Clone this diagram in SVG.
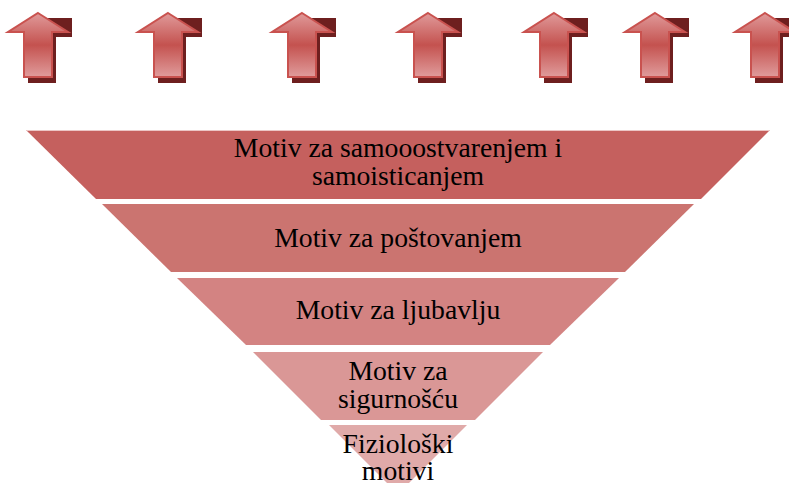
<svg xmlns="http://www.w3.org/2000/svg" width="789" height="483" viewBox="0 0 789 483">
<defs>
<linearGradient id="ag" x1="0" y1="0" x2="0" y2="1">
<stop offset="0" stop-color="#e09a9a"/>
<stop offset="0.5" stop-color="#c4524f"/>
<stop offset="1" stop-color="#e09c9c"/>
</linearGradient>
<g id="arrow">
<polygon points="4,5 34,5 34,24 18,24 18,70 -10,70 -10,24" fill="#6e1f1f"/>
<polygon points="0,0 30,19 14,19 14,64 -14,64 -14,19 -30,19" fill="url(#ag)" stroke="#c9524f" stroke-width="2" stroke-linejoin="miter"/>
</g>
</defs>
<style>
.t{font-size:27.7px;fill:#000;text-anchor:middle}
</style>
<rect width="789" height="483" fill="#fff"/>
<g id="arrows">
<use href="#arrow" x="38" y="13"/>
<use href="#arrow" x="168" y="13"/>
<use href="#arrow" x="302" y="13"/>
<use href="#arrow" x="428" y="13"/>
<use href="#arrow" x="554" y="13"/>
<use href="#arrow" x="655" y="13"/>
<use href="#arrow" x="765" y="13"/>
</g>
<g font-family="Liberation Serif">
<g id="level1">
<polygon points="26,130 770,130 701,199 96,199" fill="#c5605e"/>
<line x1="26" y1="130.5" x2="770" y2="130.5" stroke="#ecc6c5" stroke-width="1"/>
<text class="t" x="398" y="157">Motiv za samooostvarenjem i</text>
<text class="t" x="398" y="185">samoisticanjem</text>
</g>
<g id="level2">
<polygon points="102,204 694,204 625,272 171,272" fill="#cb7470"/>
<text class="t" x="398" y="247">Motiv za poštovanjem</text>
</g>
<g id="level3">
<polygon points="177,278 619,278 550,345 246,345" fill="#d38382"/>
<text class="t" x="398" y="319">Motiv za ljubavlju</text>
</g>
<g id="level4">
<polygon points="253,352 543,352 475,420 321,420" fill="#da9796"/>
<text class="t" x="398" y="380">Motiv za</text>
<text class="t" x="398" y="408">sigurnošću</text>
</g>
<g id="level5">
<polygon points="329,425 467,425 398,494" fill="#e0aaa9"/>
<text class="t" x="398" y="453">Fiziološki</text>
<text class="t" x="398" y="480">motivi</text>
</g>
</g>
</svg>
